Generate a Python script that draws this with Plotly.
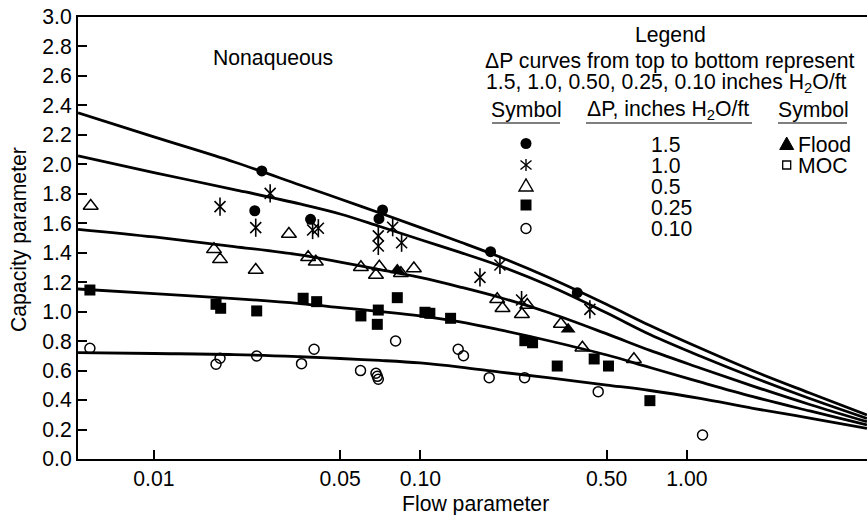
import plotly.graph_objects as go

# ---------------- data ----------------
curve_x = [0.00519, 0.01, 0.02, 0.0353, 0.05, 0.0705, 0.0996, 0.141, 0.199,
           0.306, 0.501, 0.727, 1.12, 1.77, 2.89, 4.74]
curve_15 = [2.350, 2.186, 2.016, 1.860, 1.765, 1.670, 1.572, 1.473, 1.371,
            1.229, 1.049, 0.906, 0.753, 0.599, 0.448, 0.299]
curve_10 = [2.057, 1.944, 1.829, 1.731, 1.663, 1.578, 1.490, 1.402, 1.310,
            1.174, 0.991, 0.845, 0.699, 0.555, 0.411, 0.276]
curve_050 = [1.559, 1.507, 1.442, 1.385, 1.337, 1.286, 1.232, 1.167, 1.096,
             0.991, 0.849, 0.737, 0.618, 0.495, 0.370, 0.253]
curve_025 = [1.154, 1.123, 1.089, 1.055, 1.028, 1.001, 0.971, 0.930, 0.876,
             0.801, 0.706, 0.621, 0.523, 0.423, 0.326, 0.231]
curve_010 = [0.722, 0.716, 0.709, 0.694, 0.682, 0.669, 0.652, 0.624, 0.590,
             0.550, 0.502, 0.465, 0.411, 0.344, 0.278, 0.208]

dp15_x = [0.0254, 0.0239, 0.0387, 0.0721, 0.0699, 0.1834, 0.3878]
dp15_y = [1.955, 1.685, 1.627, 1.690, 1.631, 1.407, 1.129]

dp10_x = [0.0177, 0.0241, 0.0273, 0.0394, 0.0414, 0.0787, 0.0695, 0.0695,
          0.0850, 0.1673, 0.1988, 0.2397, 0.4325]
dp10_y = [1.713, 1.570, 1.803, 1.554, 1.566, 1.573, 1.514, 1.446,
          1.468, 1.233, 1.317, 1.079, 1.016]

dp05_x = [0.00579, 0.0168, 0.0177, 0.0241, 0.0321, 0.0379, 0.0405, 0.0598,
          0.0701, 0.0681, 0.0845, 0.0945, 0.1942, 0.2033, 0.2517, 0.2404,
          0.3367, 0.4054, 0.6326]
dp05_y = [1.717, 1.423, 1.355, 1.283, 1.527, 1.369, 1.339, 1.301,
          1.305, 1.249, 1.261, 1.293, 1.084, 1.023, 1.045, 0.982,
          0.916, 0.755, 0.677]

flood_x = [0.0819, 0.3585]
flood_y = [1.283, 0.880]

dp025_x = [0.00575, 0.0171, 0.0178, 0.0243, 0.0363, 0.0408, 0.0598, 0.0695,
           0.0689, 0.0819, 0.1040, 0.1085, 0.1298, 0.2466, 0.2636, 0.3262,
           0.4489, 0.5079, 0.7265]
dp025_y = [1.147, 1.050, 1.023, 1.005, 1.091, 1.068, 0.971, 1.011,
           0.914, 1.095, 0.996, 0.989, 0.955, 0.803, 0.789, 0.631,
           0.679, 0.631, 0.396]

dp010_x = [0.00575, 0.0171, 0.0177, 0.0243, 0.0358, 0.0399, 0.0596, 0.0681,
           0.0689, 0.0695, 0.0807, 0.1386, 0.1451, 0.1812, 0.2460, 0.4648, 1.145]
dp010_y = [0.751, 0.643, 0.684, 0.699, 0.647, 0.745, 0.600, 0.582,
           0.561, 0.541, 0.801, 0.745, 0.701, 0.552, 0.552, 0.457, 0.163]

x_tick_vals = [0.01, 0.05, 0.10, 0.50, 1.00]
x_tick_text = ["0.01", "0.05", "0.10", "0.50", "1.00"]

# ---------------- layout helpers ----------------
PL, PT, PR, PB = 78, 17, 867, 459
PW, PH = PR - PL, PB - PT


def fx(p):
    return (p - PL) / PW


def fy(p):
    return (PB - p) / PH


FONT = "Liberation Sans, Arial, Helvetica, sans-serif"
BLACK = "#000000"
FS = 21.2

fig = go.Figure()

for cy in [curve_15, curve_10, curve_050, curve_025, curve_010]:
    fig.add_trace(go.Scatter(x=curve_x, y=cy, mode="lines",
                             line=dict(color=BLACK, width=2.8, shape="spline", smoothing=1.0),
                             hoverinfo="skip", showlegend=False))

fig.add_trace(go.Scatter(x=dp15_x, y=dp15_y, mode="markers",
                         marker=dict(symbol="circle", size=11, color=BLACK), showlegend=False))
fig.add_trace(go.Scatter(x=dp10_x, y=dp10_y, mode="markers",
                         marker=dict(symbol="x-thin-open", size=11, color=BLACK,
                                     line=dict(color=BLACK, width=1.6)), showlegend=False))
fig.add_trace(go.Scatter(x=dp10_x, y=dp10_y, mode="markers",
                         marker=dict(symbol="line-ns-open", size=13, color=BLACK,
                                     line=dict(color=BLACK, width=1.6)), showlegend=False))
fig.add_trace(go.Scatter(x=dp05_x, y=dp05_y, mode="markers",
                         marker=dict(symbol="triangle-up-open", size=13, color=BLACK,
                                     line=dict(color=BLACK, width=1.5)), showlegend=False))
fig.add_trace(go.Scatter(x=flood_x, y=flood_y, mode="markers",
                         marker=dict(symbol="triangle-up", size=13, color=BLACK), showlegend=False))
fig.add_trace(go.Scatter(x=dp025_x, y=dp025_y, mode="markers",
                         marker=dict(symbol="square", size=11, color=BLACK), showlegend=False))
fig.add_trace(go.Scatter(x=dp010_x, y=dp010_y, mode="markers",
                         marker=dict(symbol="circle-open", size=10, color=BLACK,
                                     line=dict(color=BLACK, width=1.5)), showlegend=False))

annotations = []


def txt(text, cx, cy, size=FS, xanchor="center", angle=0):
    annotations.append(dict(text=text, x=fx(cx), y=fy(cy), xref="paper", yref="paper",
                            xanchor=xanchor, yanchor="middle", showarrow=False,
                            textangle=angle, font=dict(family=FONT, size=size, color=BLACK)))


txt("Nonaqueous", 273, 58)
txt("Legend", 670, 35)
txt("ΔP curves from top to bottom represent", 670, 61)
txt("1.5, 1.0, 0.50, 0.25, 0.10 inches H<sub>2</sub>O/ft", 666, 83)
txt("Symbol", 526, 110)
txt("ΔP, inches H<sub>2</sub>O/ft", 668, 110)
txt("Symbol", 813, 110)
for label, yy in zip(["1.5", "1.0", "0.5", "0.25", "0.10"], [144, 165, 186, 207, 228.5]):
    txt(label, 649, yy, xanchor="left")
txt("Flood", 796, 144, xanchor="left")
txt("MOC", 796, 165, xanchor="left")
txt("Capacity parameter", 19, 240, angle=-90)
txt("Flow parameter", 475, 503.5)

shapes = []
# underlines
for x0, x1 in [(492, 560), (586, 752), (778, 847)]:
    shapes.append(dict(type="line", xref="paper", yref="paper", x0=fx(x0), x1=fx(x1),
                       y0=fy(123), y1=fy(123), line=dict(color=BLACK, width=1.2)))
# legend symbols
cx = 526
shapes.append(dict(type="circle", xref="paper", yref="paper", x0=fx(cx - 5.5), x1=fx(cx + 5.5),
                   y0=fy(143.5 + 5.5), y1=fy(143.5 - 5.5), fillcolor=BLACK, line=dict(width=0)))
for (a, b, c, d) in [(0, -6, 0, 6), (-5.5, -4.5, 5.5, 4.5), (-5.5, 4.5, 5.5, -4.5)]:
    shapes.append(dict(type="line", xref="paper", yref="paper", x0=fx(cx + a), y0=fy(165 + b),
                       x1=fx(cx + c), y1=fy(165 + d), line=dict(color=BLACK, width=1.4)))
shapes.append(dict(type="path", xref="paper", yref="paper",
                   path=f"M {fx(cx-7)} {fy(191)} L {fx(cx+7)} {fy(191)} L {fx(cx)} {fy(179)} Z",
                   line=dict(color=BLACK, width=1.4)))
shapes.append(dict(type="rect", xref="paper", yref="paper", x0=fx(cx - 5.5), x1=fx(cx + 5.5),
                   y0=fy(205 + 5.5), y1=fy(205 - 5.5), fillcolor=BLACK, line=dict(width=0)))
shapes.append(dict(type="circle", xref="paper", yref="paper", x0=fx(cx - 5), x1=fx(cx + 5),
                   y0=fy(228.5 + 5), y1=fy(228.5 - 5), line=dict(color=BLACK, width=1.4)))
rx = 786.7
shapes.append(dict(type="path", xref="paper", yref="paper",
                   path=f"M {fx(rx-7)} {fy(149.5)} L {fx(rx+7)} {fy(149.5)} L {fx(rx)} {fy(137)} Z",
                   fillcolor=BLACK, line=dict(color=BLACK, width=1)))
shapes.append(dict(type="rect", xref="paper", yref="paper", x0=fx(rx - 4), x1=fx(rx + 4),
                   y0=fy(165 + 4), y1=fy(165 - 4), line=dict(color=BLACK, width=1.3)))

fig.update_layout(
    width=867, height=515,
    margin=dict(l=PL, r=867 - PR, t=PT, b=515 - PB, autoexpand=False),
    paper_bgcolor="white", plot_bgcolor="white",
    showlegend=False,
    annotations=annotations, shapes=shapes,
    font=dict(family=FONT, size=FS, color=BLACK),
    xaxis=dict(type="log", range=[-2.285, 0.676], tickvals=x_tick_vals, ticktext=x_tick_text,
               ticks="inside", ticklen=9, tickwidth=2, tickcolor=BLACK,
               showline=True, linewidth=2, linecolor=BLACK, mirror=True,
               showgrid=False, zeroline=False, tickfont=dict(size=FS, family=FONT)),
    yaxis=dict(range=[0, 3.0], dtick=0.2, tick0=0, tickformat=".1f",
               ticks="inside", ticklen=9, tickwidth=2, tickcolor=BLACK,
               showline=True, linewidth=2, linecolor=BLACK, mirror=False,
               showgrid=False, zeroline=False, tickfont=dict(size=FS, family=FONT)),
)

fig.write_html("out.html", config={"displayModeBar": False},
               post_script="document.body.style.margin='0';document.body.style.overflow='hidden';")
